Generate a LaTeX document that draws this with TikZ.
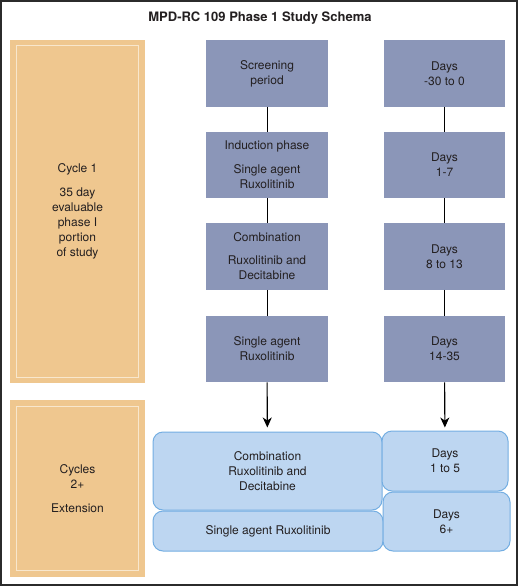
\documentclass[tikz,border=0pt]{standalone}
\usepackage{fontspec}
\setmainfont{TeX Gyre Heros}
\usetikzlibrary{arrows.meta}
\definecolor{orangefill}{HTML}{EFC78F}
\definecolor{orangeline}{HTML}{F8E7CD}
\definecolor{purplefill}{HTML}{8B96B8}
\definecolor{bluefill}{HTML}{BDD6F1}
\definecolor{blueline}{HTML}{74AEE2}
\definecolor{ink}{HTML}{231F20}
\definecolor{frame}{HTML}{2B2B2B}
\tikzset{
  txt/.style={font=\fontsize{12}{15}\selectfont, text=ink, align=center, inner sep=0pt},
  orangebox/.style={txt, fill=orangefill, minimum width=135pt},
  purplebox/.style={txt, fill=purplefill, minimum width=122pt, minimum height=66.5pt},
  bluebox/.style={txt, fill=bluefill, draw=blueline, line width=1pt, rounded corners=10pt},
  conn/.style={draw=black, line width=1pt},
  arrowline/.style={draw=black, line width=1.1pt, -{Stealth[length=10pt,width=9pt,inset=3pt]}},
  innerline/.style={draw=orangeline, line width=1.2pt},
}
\begin{document}
\begin{tikzpicture}[x=1pt,y=-1pt]
\useasboundingbox (0,0) rectangle (520,588);
\fill[white] (0,0) rectangle (520,588);
\draw[frame, line width=2pt] (1,1) rectangle (517,585);

\node[txt, font=\fontsize{13}{15}\selectfont\bfseries] (title) at (260,18.5) {MPD-RC 109 Phase 1 Study Schema};

% orange boxes
\node[orangebox, minimum height=343pt] (cyc1) at (77.5,211.5) {Cycle 1\\[9pt]35 day\\evaluable\\phase I\\portion\\of study};
\draw[innerline] ([shift={(7,6)}]cyc1.north west) rectangle ([shift={(-7,-6)}]cyc1.south east);
\node[orangebox, minimum height=177pt] (cyc2) at (77.5,488.5) {Cycles\\2+\\[9pt]Extension};
\draw[innerline] ([shift={(7,7)}]cyc2.north west) rectangle ([shift={(-7,-7)}]cyc2.south east);

% purple column A
\node[purplebox] (scr) at (267,73.5) {Screening\\period};
\node[purplebox] (ind) at (267,165) {Induction phase\\[9pt]Single agent\\Ruxolitinib};
\node[purplebox] (comb) at (267,256.5) {Combination\\[8pt]Ruxolitinib and\\Decitabine};
\node[purplebox] (sing) at (267,349) {Single agent\\Ruxolitinib};
% purple column B
\node[purplebox, minimum width=121pt] (d0) at (444.5,73.5) {Days\\-30 to 0};
\node[purplebox, minimum width=121pt] (d17) at (444.5,165) {Days\\1-7};
\node[purplebox, minimum width=121pt] (d813) at (444.5,256.5) {Days\\8 to 13};
\node[purplebox, minimum width=121pt] (d1435) at (444.5,349) {Days\\14-35};

\draw[conn] (scr) -- (ind);
\draw[conn] (ind) -- (comb);
\draw[conn] (comb) -- (sing);
\draw[conn] (d0) -- (d17);
\draw[conn] (d17) -- (d813);
\draw[conn] (d813) -- (d1435);

% blue boxes
\node[bluebox, minimum width=229pt, minimum height=78pt] (comb2) at (267.5,471) {Combination\\Ruxolitinib and\\Decitabine};
\node[bluebox, minimum width=230pt, minimum height=40pt] (sing2) at (268,531) {Single agent Ruxolitinib};
\node[bluebox, minimum width=126pt, minimum height=60pt] (d15) at (445,461) {Days\\1 to 5};
\node[bluebox, minimum width=127pt, minimum height=59pt] (d6) at (446.5,521.5) {Days\\6+};

\draw[arrowline, shorten >=4pt] (sing) -- (comb2);
\draw[arrowline, shorten >=3pt] (d1435) -- (d15);
\end{tikzpicture}
\end{document}
